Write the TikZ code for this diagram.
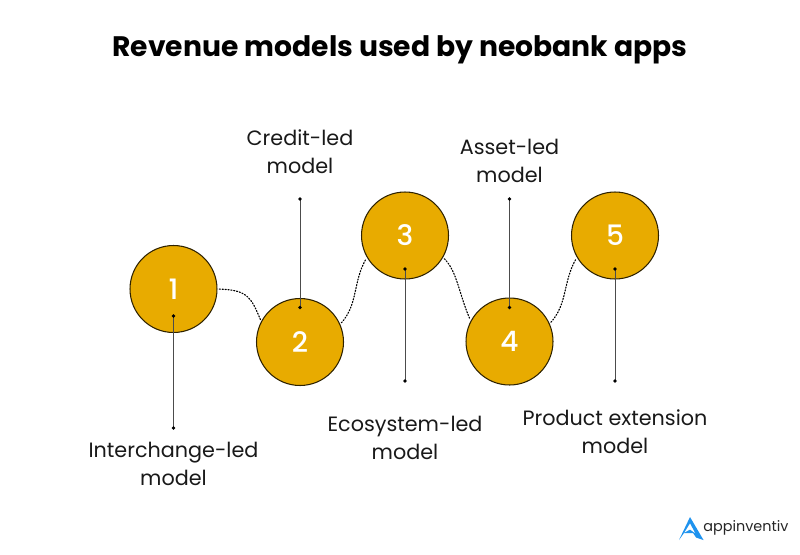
\documentclass[tikz,border=0pt]{standalone}
\usepackage{fontspec}
\setmainfont{Poppins}
\newfontfamily\numfont{Poppins Medium}
\definecolor{ringgold}{HTML}{E8AB00}
\definecolor{logoblue}{HTML}{1F93EE}
\tikzset{
  stepcircle/.style={circle,draw=black!80!ringgold,line width=0.6pt,fill=ringgold,minimum size=1.74cm,inner sep=0pt,text=white,font=\numfont\fontsize{16}{16}\selectfont},
  steplabel/.style={align=center,font=\fontsize{11.8}{15.9}\selectfont,text=black!90},
  stemline/.style={line width=0.5pt,black!70},
  waveline/.style={densely dotted,line width=0.65pt,shorten <=1pt,shorten >=1pt},
}
\begin{document}
\begin{tikzpicture}[x=0.02cm,y=-0.02cm,line cap=round]
    \useasboundingbox (0,0) rectangle (800,554);
    \node[font=\fontsize{16.05}{18}\selectfont\bfseries] (title) at (400,49.5) {Revenue models used by neobank apps};
    % circles, stems and their labels
    \foreach \n/\x/\y/\ya/\yb/\ly/\lab in {1/173.5/289/316/428/463.5/Interchange-led\\model,2/300/342/199/307.5/151.5/Credit-led\\model,3/405/235.5/269/381/437.5/Ecosystem-led\\model,4/509.5/341.5/199/307.5/160.5/Asset-led\\model,5/615/235.5/269/381/432/Product extension\\model}{
      \coordinate (top\n) at (\x,\ya);
      \coordinate (bot\n) at (\x,\yb);
      \node[stepcircle] (c\n) at (\x,\y) {\n};
      \draw[stemline] (top\n) -- (bot\n);
      \fill (top\n) circle (1.8);
      \fill (bot\n) circle (1.8);
      \node[steplabel] (lab\n) at (\x,\ly) {\lab};
    }
    % dotted links between circles
    \draw[waveline] (c1.0) .. controls ++(30,1) and ++(-10,-24) .. (c2.152);
    \draw[waveline] (c2.24) .. controls ++(18,-20) and ++(-14,24) .. (c3.210);
    \draw[waveline] (c3.-30) .. controls ++(14,14) and ++(-12,-28) .. (c4.152);
    \draw[waveline] (c4.24) .. controls ++(18,-20) and ++(-14,24) .. (c5.210);
    % logo
    \fill[logoblue] (690,517) -- (703.5,540) -- (696,537.5) -- (689,527) -- (693.5,533) -- (684,533) -- (679,540) -- cycle;
    \fill[white] (690,523.5) -- (684.5,532.5) -- (690,529.5) -- (695,533) -- cycle;
    \node[font=\fontsize{8.2}{10}\selectfont,text=black!85,anchor=west,inner sep=0pt] (brand) at (703,528) {appinventiv};
\end{tikzpicture}
\end{document}
